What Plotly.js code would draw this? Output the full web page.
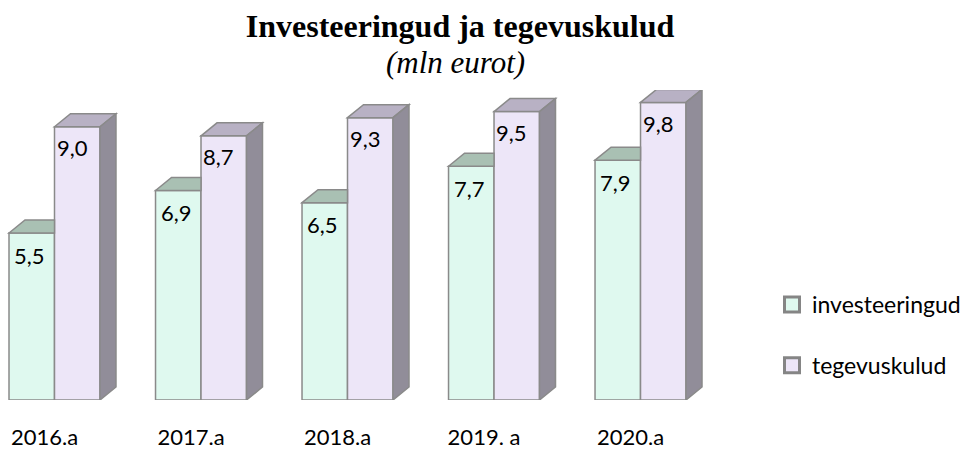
<!DOCTYPE html>
<html>
<head>
<meta charset="utf-8">
<script src="https://cdn.plot.ly/plotly-3.0.1.min.js"></script>
<style>html,body{margin:0;padding:0;background:#fff;}#chart{width:972px;height:450px;}</style>
</head>
<body>
<div id="chart"></div>
<script>
const categories = ['2016.a', '2017.a', '2018.a', '2019. a', '2020.a'];
const investeeringud = [5.5, 6.9, 6.5, 7.7, 7.9];
const tegevuskulud = [9.0, 8.7, 9.3, 9.5, 9.8];
const seriesNames = ['investeeringud', 'tegevuskulud'];
const titleText = 'Investeeringud ja tegevuskulud';
const subtitleText = '(mln eurot)';

const W = 972, H = 450;
const M = {l: 0, r: 232, t: 90, b: 50};
const plotW = W - M.l - M.r, plotH = H - M.t - M.b;
const xRange = [-0.372, 4.679];
const yRange = [0, 10.21];
const bargap = 0.379;
const groupW = 1 - bargap;
const pxPerCat = plotW / (xRange[1] - xRange[0]);
const pxPerUnit = plotH / (yRange[1] - yRange[0]);
const bw = groupW / 2 * pxPerCat;
const dx = 16, dy = 13;

const lineCol = '#8a8a8a';
const invFront = '#dff9ef', tegFront = '#ede6f8';
const invTop = '#a9c0b3', tegTop = '#b8b1c4', tegSide = '#918d99';
const fontFam = 'Lato, "Open Sans", sans-serif';
const serif = '"Liberation Serif", "Times New Roman", serif';

const fmt = v => v.toFixed(1).replace('.', ',');

const traces = [
  {type: 'bar', name: seriesNames[0], x: categories, y: investeeringud, showlegend: false,
   marker: {color: invFront, line: {color: lineCol, width: 1.5}}, hoverinfo: 'skip'},
  {type: 'bar', name: seriesNames[1], x: categories, y: tegevuskulud, showlegend: false,
   marker: {color: tegFront, line: {color: lineCol, width: 1.5}}, hoverinfo: 'skip'},
  // legend keys
  {type: 'scatter', mode: 'markers', name: seriesNames[0], x: [null], y: [null], legendgroup: 'a',
   marker: {symbol: 'square', size: 15, color: invFront, line: {color: '#858585', width: 3}}},
  {type: 'scatter', mode: 'markers', name: seriesNames[1], x: [null], y: [null], legendgroup: 'b',
   marker: {symbol: 'square', size: 15, color: tegFront, line: {color: '#858585', width: 3}}}
];

const shapes = [];
const annotations = [];
categories.forEach((c, i) => {
  const xL = i - groupW / 2, xM = i, xR = i + groupW / 2;
  const common = {type: 'path', xref: 'x', yref: 'y', xsizemode: 'pixel', ysizemode: 'pixel',
                  layer: 'above', line: {color: lineCol, width: 1.5}};
  shapes.push(Object.assign({}, common, {xanchor: xL, yanchor: investeeringud[i], fillcolor: invTop,
    path: `M0,0 L${dx},${dy} L${bw},${dy} L${bw},0 Z`}));
  shapes.push(Object.assign({}, common, {xanchor: xM, yanchor: tegevuskulud[i], fillcolor: tegTop,
    path: `M0,0 L${dx},${dy} L${bw + dx},${dy} L${bw},0 Z`}));
  const h = tegevuskulud[i] * pxPerUnit;
  shapes.push(Object.assign({}, common, {xanchor: xR, yanchor: tegevuskulud[i], fillcolor: tegSide,
    path: `M0,0 L${dx},${dy} L${dx},${dy - h} L0,${-h} Z`}));
  annotations.push({x: xL + groupW / 4, y: investeeringud[i], xref: 'x', yref: 'y', text: fmt(investeeringud[i]),
    showarrow: false, yshift: -22, xshift: -2, font: {family: fontFam, size: 22, color: '#000'}});
  annotations.push({x: xM + groupW / 4, y: tegevuskulud[i], xref: 'x', yref: 'y', text: fmt(tegevuskulud[i]),
    showarrow: false, yshift: -21, xshift: -5, font: {family: fontFam, size: 22, color: '#000'}});
});
annotations.push({xref: 'paper', yref: 'paper', x: 455 / plotW, y: 1 + (M.t - 62) / plotH,
  xanchor: 'center', yanchor: 'middle', showarrow: false, text: '<i>' + subtitleText + '</i>',
  font: {family: serif, size: 31, color: '#000'}});

const layout = {
  width: W, height: H,
  margin: M,
  paper_bgcolor: '#fff', plot_bgcolor: '#fff',
  title: {text: '<b>' + titleText + '</b>',
          font: {family: serif, size: 32, color: '#000'},
          x: 460 / W, xanchor: 'center', y: 1 - 26 / H, yanchor: 'middle'},
  barmode: 'group', bargap: bargap, bargroupgap: 0,
  xaxis: {type: 'category', range: xRange, showgrid: false, zeroline: false, showline: false,
          ticks: '', tickfont: {family: fontFam, size: 22, color: '#000'},
          ticklabelstandoff: 22, ticklabelshift: -10, fixedrange: true},
  yaxis: {range: yRange, visible: false, fixedrange: true},
  showlegend: true,
  legend: {x: 772 / plotW, xanchor: 'left', y: (M.t + plotH - 283) / plotH, yanchor: 'top', tracegroupgap: 28,
           itemwidth: 30, font: {family: fontFam, size: 23, color: '#000'}, bgcolor: 'rgba(0,0,0,0)'},
  shapes: shapes,
  annotations: annotations
};

Plotly.newPlot('chart', traces, layout, {staticPlot: true, displayModeBar: false});
</script>
</body>
</html>
